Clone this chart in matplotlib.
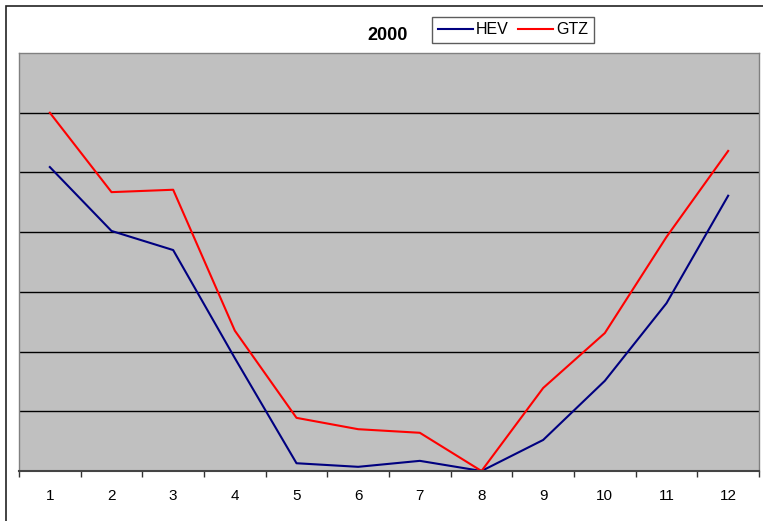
import numpy as np
import matplotlib
matplotlib.use("Agg")
import matplotlib.pyplot as plt
from matplotlib.patches import Rectangle

plt.rcParams['font.family'] = ['Liberation Sans', 'DejaVu Sans']

months = [1, 2, 3, 4, 5, 6, 7, 8, 9, 10, 11, 12]
hev = [5.09, 4.02, 3.70, 1.89, 0.13, 0.07, 0.17, 0.0, 0.52, 1.51, 2.81, 4.61]
gtz = [6.0, 4.67, 4.71, 2.35, 0.89, 0.70, 0.64, 0.0, 1.39, 2.31, 3.92, 5.36]

W, H = 763, 521
fig = plt.figure(figsize=(W / 100, H / 100), dpi=100, facecolor='white')

# outer chart border (cropped at right and bottom)
fig.patches.append(Rectangle((6 / W, -0.5), 2, 1.5 - 6 / H, transform=fig.transFigure,
                             fill=False, edgecolor='#222222', linewidth=1.2))

ax = fig.add_axes([19 / W, 1 - 471 / H, 740 / W, 418 / H])
ax.set_facecolor('#C0C0C0')

ax.plot(months, hev, color='#000080', linewidth=1.5, label='HEV')
ax.plot(months, gtz, color='#FF0000', linewidth=1.5, label='GTZ')

ax.set_xlim(0.5, 12.5)
ax.set_ylim(0, 7)
ax.set_yticks(np.arange(1, 7))
ax.yaxis.grid(True, color='black', linewidth=1)
ax.tick_params(axis='y', left=False, labelleft=False)

ax.set_xticks(np.arange(0.5, 13, 1))
ax.set_xticklabels([])
ax.set_xticks(months, minor=True)
ax.set_xticklabels([str(m) for m in months], minor=True, fontsize=11)
ax.tick_params(axis='x', which='major', length=4, width=1, color='#333333', direction='out')
ax.tick_params(axis='x', which='minor', length=0, pad=13)

for s in ['top', 'left', 'right']:
    ax.spines[s].set_color('#808080')
    ax.spines[s].set_linewidth(1)
ax.spines['bottom'].set_color('#444444')
ax.spines['bottom'].set_linewidth(1.5)

fig.text(388 / W, 1 - 36 / H, '2000', fontsize=13, fontweight='bold', ha='center', va='center')

leg = fig.legend(loc='center', bbox_to_anchor=(513 / W, 1 - 30 / H), ncol=2, fontsize=11.5,
                 frameon=True, fancybox=False, edgecolor='#333333', handlelength=2.2,
                 handletextpad=0.2, columnspacing=0.6, borderpad=0.35)
leg.get_frame().set_linewidth(1)

fig.savefig('out.png', dpi=100, facecolor='white')
